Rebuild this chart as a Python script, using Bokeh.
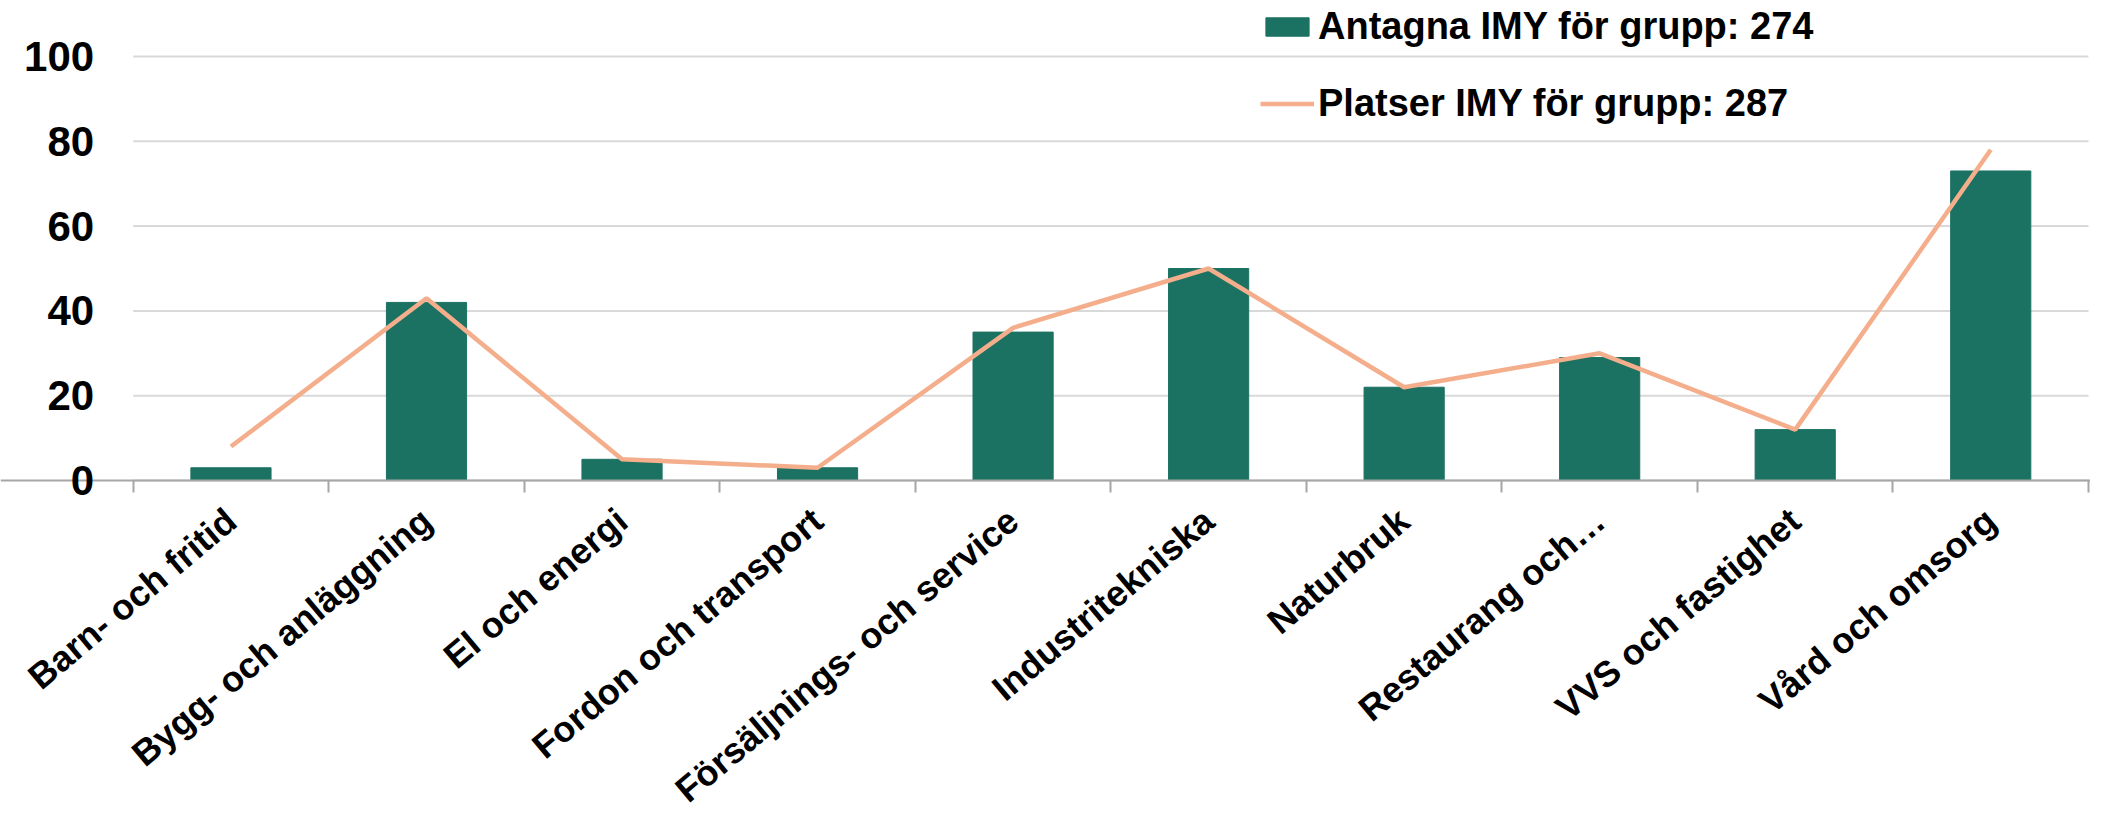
from bokeh.plotting import figure
from bokeh.models import Range1d, FixedTicker, Legend, LegendItem
from bokeh.embed import file_html
from bokeh.resources import INLINE

# ---- data ----
categories = ["Barn- och fritid", "Bygg- och anläggning", "El och energi",
              "Fordon och transport", "Försäljnings- och service", "Industritekniska",
              "Naturbruk", "Restaurang och…", "VVS och fastighet", "Vård och omsorg"]
antagna = [3, 42, 5, 3, 35, 50, 22, 29, 12, 73]
platser = [8, 43, 5, 3, 36, 50, 22, 30, 12, 78]
y_ticks = [0, 20, 40, 60, 80, 100]
series_names = ["Antagna IMY för grupp: 274", "Platser IMY för grupp: 287"]

BAR_COLOR = "#1C7262"
LINE_COLOR = "#F4AE8C"
GRID_COLOR = "#D9D9D9"
AXIS_COLOR = "#A6A6A6"
FONT = "Liberation Sans"

W, H = 2090, 804
n = len(categories)
centers = [i + 0.5 for i in range(n)]
boundaries = list(range(n + 1))

# plot area geometry (screen px) -> data ranges
left_px, right_px = 132.7, 2088.0
zero_px, hundred_px = 480.0, 56.0
xs = (right_px - left_px) / n
ys = (zero_px - hundred_px) / 100.0

p = figure(width=W, height=H, output_backend="svg", toolbar_location=None,
           x_range=Range1d(-left_px / xs, (W - left_px) / xs),
           y_range=Range1d(-(H - zero_px) / ys, zero_px / ys),
           min_border_left=0, min_border_right=0, min_border_top=0, min_border_bottom=0)
p.outline_line_color = None
p.background_fill_color = "white"
p.xgrid.visible = False
p.ygrid.visible = False

# horizontal gridlines across the category span
p.segment(x0=[0] * len(y_ticks), x1=[n] * len(y_ticks), y0=y_ticks, y1=y_ticks,
          line_color=GRID_COLOR, line_width=2)

bars = p.vbar(x=centers, top=antagna, width=0.41, fill_color=BAR_COLOR, line_color=BAR_COLOR)
line = p.line(x=centers, y=platser, line_color=LINE_COLOR, line_width=4.5)

# x axis at y=0 with boundary ticks
xa = p.xaxis[0]
xa.fixed_location = 0
xa.ticker = FixedTicker(ticks=centers, minor_ticks=boundaries)
xa.major_label_overrides = {c: lab for c, lab in zip(centers, categories)}
xa.major_tick_out = 0
xa.major_tick_in = 0
xa.minor_tick_out = 12
xa.minor_tick_in = 0
xa.minor_tick_line_color = AXIS_COLOR
xa.minor_tick_line_width = 2
xa.axis_line_color = AXIS_COLOR
xa.axis_line_width = 2
xa.major_label_orientation = 0.698
xa.major_label_standoff = 23
xa.major_label_text_font = FONT
xa.major_label_text_font_size = "36px"
xa.major_label_text_font_style = "bold"
xa.major_label_text_color = "black"

ya = p.yaxis[0]
ya.fixed_location = 0
ya.ticker = FixedTicker(ticks=y_ticks)
ya.axis_line_color = None
ya.major_tick_out = 0
ya.major_tick_in = 0
ya.minor_tick_out = 0
ya.minor_tick_in = 0
ya.major_label_standoff = 39
ya.major_label_text_font = FONT
ya.major_label_text_font_size = "42px"
ya.major_label_text_font_style = "bold"
ya.major_label_text_color = "black"

legend = Legend(items=[LegendItem(label=series_names[0], renderers=[bars]),
                       LegendItem(label=series_names[1], renderers=[line])],
                location=(1260, 679), orientation="vertical",
                glyph_width=54, glyph_height=23, label_height=44, label_standoff=4,
                spacing=33, padding=0, margin=0,
                border_line_color=None, background_fill_alpha=0,
                label_text_font=FONT, label_text_font_size="38px",
                label_text_font_style="bold", label_text_color="black")
p.add_layout(legend)

open("out.html", "w").write(file_html(p, INLINE))
